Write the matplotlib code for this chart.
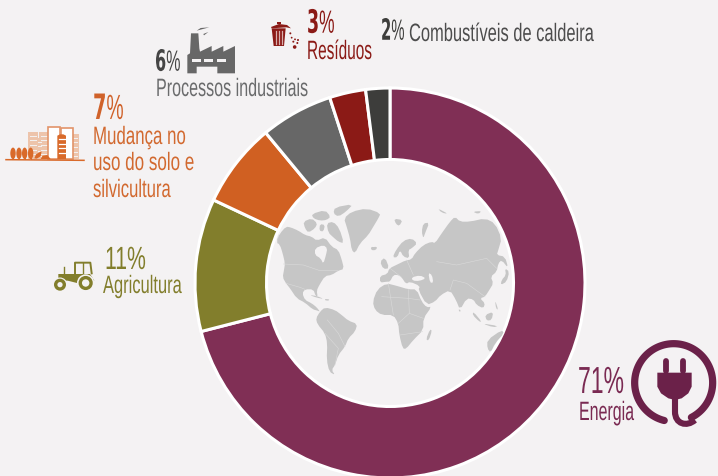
import matplotlib
matplotlib.use("Agg")
import matplotlib.pyplot as plt
import matplotlib.patheffects as pe
from matplotlib.patches import Polygon, Ellipse, Circle, Rectangle, PathPatch
from matplotlib.path import Path
from matplotlib.text import Text
from matplotlib.transforms import Affine2D, Bbox
import numpy as np

# emission shares, clockwise from the top of the ring
sectors = ["Energia", "Agricultura", "Mudança no\nuso do solo e\nsilvicultura",
           "Processos industriais", "Resíduos", "Combustíveis de caldeira"]
shares = [71, 11, 7, 6, 3, 2]
ring_colors = ["#802F55", "#827E2C", "#D06022", "#676767", "#8B1A16", "#3D3D3B"]

BG = "#F4F2F3"
LAND = "#C6C6C6"
PLUG = "#6B2149"

plt.rcParams["font.family"] = ["Liberation Sans Narrow", "Liberation Sans", "DejaVu Sans"]
plt.rcParams["mathtext.fontset"] = "custom"
plt.rcParams["mathtext.rm"] = "Liberation Sans Narrow"
plt.rcParams["mathtext.bf"] = "Liberation Sans Narrow:bold"
plt.rcParams["mathtext.default"] = "rm"

fig = plt.figure(figsize=(7.18, 4.76), dpi=100, facecolor=BG)
ax = fig.add_axes([0, 0, 1, 1])
ax.set_facecolor(BG)


class Condense(pe.AbstractPathEffect):
    # squeeze glyphs sideways around the text's anchor
    def __init__(self, sx, x0):
        super().__init__()
        self.sx = sx
        self.x0 = x0

    def draw_path(self, renderer, gc, tpath, affine, rgbFace=None):
        squeeze = Affine2D().translate(-self.x0, 0).scale(self.sx, 1).translate(self.x0, 0)
        renderer.draw_path(gc, tpath, affine + squeeze, rgbFace)


class NarrowText(Text):
    # text whose extent follows the squeezed glyphs
    sx = 1.0

    def get_window_extent(self, renderer=None, dpi=None):
        bb = super().get_window_extent(renderer, dpi)
        if self.get_ha() == "right":
            return Bbox.from_extents(bb.x1 - bb.width * self.sx, bb.y0, bb.x1, bb.y1)
        return Bbox.from_extents(bb.x0, bb.y0, bb.x0 + bb.width * self.sx, bb.y1)


def label(x, y, s, cap, width, color, ha="left"):
    # cap = cap height in px, width = final text width in px
    size = cap / 0.716 * 0.72
    t = NarrowText(x, y, s, fontsize=size, color=color, ha=ha, va="baseline", zorder=5)
    ax.add_artist(t)
    w = t.get_window_extent(fig.canvas.get_renderer()).width
    t.sx = min(width / w, 1.0)
    t.set_path_effects([Condense(t.sx, ax.transData.transform((x, y))[0])])
    return t


def bold_digit(value):
    return r"$\mathbf{%d}$%%" % value


def trace(pts, ox, oy, k=3.0):
    # outlines are noted at 3x scale with an offset
    return [(ox + a / k, oy + b / k) for a, b in pts]


def soften(pts, rounds=1):
    # corner cutting, takes the straight edges off the coastlines
    p = np.array(pts, dtype=float)
    for _ in range(rounds):
        n = np.roll(p, -1, axis=0)
        p = np.column_stack([0.75 * p + 0.25 * n, 0.25 * p + 0.75 * n]).reshape(-1, 2)
    return p


def fill(pts, ox, oy, color, z=2, **kw):
    ax.add_patch(Polygon(trace(pts, ox, oy), closed=True, facecolor=color,
                         edgecolor="none", zorder=z, **kw))


def stroke(pts, ox, oy, color, lw=0.4, z=2.5):
    p = trace(pts, ox, oy)
    ax.plot([q[0] for q in p], [q[1] for q in p], color=color, lw=lw, zorder=z)


# ring: y axis runs downwards, so angles grow clockwise on screen
ax.pie(shares, colors=ring_colors, radius=195, center=(390, 283), startangle=270,
       counterclock=True,
       wedgeprops=dict(width=71.5, edgecolor="white", linewidth=2.2))

# pie resets the limits, so fix the pixel frame straight after it
ax.set_xlim(0, 718)
ax.set_ylim(476, 0)
ax.set_aspect("equal")
ax.axis("off")

# --- world map in the hole ---
W = (270, 200)   # americas block
E = (370, 200)   # old world block

north_america = [(18, 125), (30, 100), (48, 80), (62, 82), (85, 92), (105, 105), (125, 110),
                 (140, 122), (165, 112), (185, 140), (205, 150), (215, 178), (222, 207), (205, 212),
                 (185, 225), (165, 228), (148, 255), (140, 272), (143, 290), (137, 288),
                 (130, 268), (105, 268), (97, 280), (105, 300), (125, 310), (140, 322), (150, 335),
                 (143, 332), (128, 328), (105, 308), (80, 295), (60, 265), (48, 250), (38, 232),
                 (42, 210), (45, 190), (38, 160), (30, 135)]
hudson_bay = [(135, 145), (160, 135), (172, 145), (168, 165), (160, 192), (152, 175), (135, 165)]
south_america = [(138, 355), (150, 335), (165, 322), (195, 330), (215, 345), (235, 362),
                 (262, 372), (255, 395), (235, 415), (225, 440), (205, 465), (195, 495), (185, 510),
                 (195, 525), (178, 515), (170, 480), (172, 430), (165, 400), (142, 372)]
greenland = [(222, 55), (245, 35), (290, 25), (332, 40), (325, 55), (310, 80), (295, 105),
             (270, 130), (255, 160), (245, 150), (240, 115), (230, 80)]
arctic_isles = [
    [(100, 65), (125, 55), (142, 70), (135, 85), (115, 98), (105, 85)],
    [(125, 42), (165, 30), (182, 50), (170, 60), (150, 62), (130, 55)],
    [(195, 22), (250, 12), (228, 35), (205, 50), (190, 40)],
    [(170, 70), (190, 65), (208, 85), (222, 130), (205, 125), (190, 112), (175, 98)],
    [(150, 72), (165, 75), (160, 95), (148, 92)],
    [(302, 142), (322, 140), (318, 150), (305, 151)],
]
caribbean = [[(118, 285), (140, 288), (162, 297), (140, 293)], [(165, 297), (178, 298), (176, 302), (165, 301)]]
for shape in [north_america, south_america, greenland] + arctic_isles + caribbean:
    fill(soften(shape), W[0], W[1], LAND)
fill(soften(hudson_bay), W[0], W[1], BG, z=2.2)

eurasia = [(30, 228), (52, 222), (58, 205), (85, 192), (105, 182), (125, 178), (135, 160),
           (160, 135), (185, 125), (195, 130), (215, 100), (240, 65), (255, 50), (270, 65),
           (300, 65), (345, 55), (375, 70), (395, 115), (385, 150), (380, 165), (405, 170),
           (415, 205), (395, 180), (385, 190), (380, 215), (362, 230), (370, 250), (358, 270),
           (345, 290), (330, 295), (345, 310), (340, 325), (320, 315), (310, 298), (290, 295),
           (270, 330), (258, 300), (240, 270), (212, 285), (195, 305), (170, 315), (145, 270),
           (150, 258), (120, 245), (108, 252), (95, 232), (85, 225), (70, 225), (60, 245),
           (50, 245), (30, 248)]
scandinavia = [(68, 172), (78, 150), (100, 122), (125, 115), (142, 130), (125, 145), (115, 150),
               (118, 175), (100, 170), (90, 150), (82, 172)]
africa = [(8, 305), (22, 268), (50, 250), (82, 258), (115, 268), (140, 268), (155, 305), (170, 322),
          (185, 320), (160, 355), (160, 390), (130, 420), (108, 447), (98, 445), (88, 405),
          (85, 370), (70, 345), (35, 345), (15, 330)]
old_isles = [
    [(180, 388), (186, 392), (176, 422), (168, 418)],                       # madagascar
    [(352, 420), (395, 390), (402, 400), (375, 430), (362, 458), (352, 445)],  # australia
    [(310, 335), (335, 365), (328, 365), (308, 345)],
    [(345, 345), (370, 335), (365, 360), (350, 362)],
    [(335, 370), (385, 378), (370, 382)],
    [(405, 205), (418, 215), (410, 245), (392, 255), (395, 240), (408, 225)],
    [(375, 300), (385, 330), (378, 325)],
    [(265, 328), (272, 330), (270, 337)],
    [(160, 70), (178, 68), (165, 100), (160, 115), (155, 95)],              # novaya zemlya
    [(72, 56), (98, 60), (88, 78), (78, 72)],
    [(30, 185), (45, 172), (58, 205), (40, 207)],
    [(2, 140), (22, 143), (8, 150)],
    [(203, 25), (235, 42), (215, 38)],
    [(308, 35), (335, 33), (325, 42)],
]
for shape in [eurasia, scandinavia, africa] + old_isles:
    fill(soften(shape), E[0], E[1], LAND)
fill(soften([(125, 232), (150, 226), (168, 235), (148, 243), (128, 242)]), E[0], E[1], BG, z=2.2)
fill(soften([(175, 218), (186, 225), (190, 248), (180, 248)]), E[0], E[1], BG, z=2.2)

# faint country borders
border_col = "#DADADA"
for line in [[(40, 192), (100, 195), (150, 212), (205, 212)], [(48, 250), (90, 262), (105, 268)],
             [(25, 105), (22, 130)], [(172, 360), (205, 400), (225, 440)], [(165, 400), (205, 445), (195, 495)]]:
    stroke(line, W[0], W[1], border_col)
for line in [[(200, 185), (260, 195), (350, 175), (380, 205)], [(240, 270), (250, 240), (290, 250), (345, 290)],
             [(35, 290), (115, 295), (150, 300)], [(55, 250), (70, 345)], [(115, 268), (118, 340), (85, 370)],
             [(118, 340), (160, 355)], [(90, 405), (158, 395)], [(110, 180), (130, 225)], [(60, 205), (95, 232)]]:
    stroke(line, E[0], E[1], border_col)

# --- percent and sector labels ---
pct = [f"{v}%" for v in shares]
c_energy, c_agri, c_land, c_waste = "#7A2A52", "#827E2C", "#D0622A", "#8B1A16"

label(578, 393, pct[0], 27, 46, c_energy)
label(579, 420, sectors[0], 19, 55, c_energy)

label(105, 269, pct[1], 23, 41, c_agri)
label(103, 293, sectors[1], 18, 79, c_agri)

label(93, 119, bold_digit(shares[2]), 25, 31, c_land)
label_widths = [93, 101, 78]
for line, base, w in zip(sectors[2].split("\n"), [144, 170, 197], label_widths):
    label(93, base, line, 18, w, "#D2692F")

label(155, 71, bold_digit(shares[3]), 21, 26, "#454545")
label(156, 96, sectors[3], 18, 152, "#6A6B6C")

label(307, 33, bold_digit(shares[4]), 23, 28, c_waste)
label(372, 59, sectors[4], 19, 65, c_waste, ha="right")

label(405, 40, bold_digit(shares[5]), 21, 24, "#3D3D3B", ha="right")
label(409, 41, sectors[5], 18, 185, "#4C4C4C")

# --- plug icon ---
P = (560, 330)
cx, cy = P[0] + 341 / 3, P[1] + 158 / 3
ang = np.radians(np.linspace(104, 423, 120))   # y down: clockwise from the lower left
ax.plot(cx + 39 * np.cos(ang), cy + 39 * np.sin(ang), color=PLUG, lw=5.2,
        solid_capstyle="round", zorder=4)
fill([(292, 128), (395, 128), (395, 170), (385, 190), (365, 205), (345, 210), (325, 205), (303, 190), (292, 170)],
     P[0], P[1], PLUG, z=4)
ax.add_patch(PathPatch(Path(trace([(345, 205), (345, 245), (345, 282), (380, 292), (405, 270)], P[0], P[1]),
                            [Path.MOVETO, Path.LINETO, Path.CURVE4, Path.CURVE4, Path.CURVE4]),
                       facecolor="none", edgecolor=PLUG, lw=4.4, zorder=4))
for px in (319, 369):
    ax.plot(*zip(*trace([(px, 92), (px, 122)], P[0], P[1])), color=PLUG, lw=4.2,
            solid_capstyle="round", zorder=4)

# --- tractor ---
T = (45, 250)
tc = "#827E2C"
fill([(40, 72), (135, 72), (148, 92), (100, 100), (68, 92), (40, 92)], T[0], T[1], tc, z=4)
stroke([(90, 70), (90, 38), (136, 38), (140, 70)], T[0], T[1], tc, lw=1.4, z=4)
stroke([(113, 38), (113, 70)], T[0], T[1], tc, lw=1.0, z=4)
stroke([(58, 50), (58, 72)], T[0], T[1], tc, lw=1.0, z=4)
for wx, wy, r in [(122, 99, 7.5), (45, 104, 6)]:
    x0, y0 = T[0] + wx / 3, T[1] + wy / 3
    ax.add_patch(Circle((x0, y0), r + 1.2, facecolor=BG, edgecolor="none", zorder=4.2))
    ax.add_patch(Circle((x0, y0), r * 0.72, facecolor=BG, edgecolor=tc, lw=2.4, zorder=4.3))

# --- factory ---
F = (180, 20)
fc = "#676767"
fill([(22, 105), (30, 100), (33, 40), (55, 40), (58, 85), (60, 95), (95, 78), (95, 95), (130, 78), (130, 95),
      (165, 78), (165, 160), (112, 160), (112, 140), (50, 140), (50, 160), (22, 160)], F[0], F[1], fc, z=4)
for x0, x1 in [(35, 62), (72, 100), (110, 138)]:
    fill([(x0, 118), (x1, 118), (x1, 126), (x0, 126)], F[0], F[1], BG, z=4.2)
fill([(50, 32), (62, 24), (88, 22), (65, 28)], F[0], F[1], fc, z=4)
fill([(70, 42), (85, 36), (72, 46)], F[0], F[1], fc, z=4)

# --- waste bin ---
B = (265, 15)
bc = "#8B1A16"
fill([(20, 40), (62, 40), (57, 93), (26, 93)], B[0], B[1], bc, z=4)
fill([(18, 36), (42, 27), (66, 30), (78, 40), (64, 37), (20, 40)], B[0], B[1], bc, z=4)
fill([(36, 20), (48, 20), (48, 28), (36, 28)], B[0], B[1], bc, z=4)
for bx in (32, 42, 52):
    stroke([(bx, 48), (bx, 86)], B[0], B[1], "#D9B0AD", lw=0.9, z=4.2)
for dx, dy, r in [(76, 55, 1.0), (80, 68, 0.9), (90, 73, 0.9), (99, 75, 1.0), (85, 80, 1.0), (97, 84, 1.0), (89, 96, 1.8)]:
    ax.add_patch(Circle((B[0] + dx / 3, B[1] + dy / 3), r, facecolor=bc, edgecolor="none", zorder=4))

# --- city and trees ---
C = (0, 115)
oc, pale = "#D96A2A", "#EDC4AB"
for x0, y0, x1 in [(85, 52, 113), (118, 52, 145), (108, 70, 128), (215, 58, 237)]:
    fill([(x0, y0), (x1, y0), (x1, 131), (x0, 131)], C[0], C[1], pale, z=3.5)
    for yy in range(y0 + 10, 128, 14):
        stroke([(x0 + 5, yy), (x1 - 5, yy)], C[0], C[1], BG, lw=0.7, z=3.6)
for x0, y0, x1 in [(145, 36, 180), (183, 38, 218)]:
    ax.add_patch(Rectangle((C[0] + x0 / 3, C[1] + y0 / 3), (x1 - x0) / 3, (131 - y0) / 3,
                           facecolor="white", edgecolor="#E29469", lw=1.2, zorder=3.7))
fill([(172, 62), (180, 58), (190, 58), (198, 62), (198, 132), (172, 132)], C[0], C[1], oc, z=3.8)
for yy in (72, 86, 100, 114):
    stroke([(176, yy), (194, yy)], C[0], C[1], "white", lw=0.9, z=3.9)
for tx in (39, 57, 74, 92):
    ax.add_patch(Ellipse((C[0] + tx / 3, C[1] + 115 / 3), 5.4, 11.5, facecolor=oc, edgecolor="none", zorder=4))
    stroke([(tx, 120), (tx, 133)], C[0], C[1], oc, lw=0.7, z=4)
fill([(103, 130), (108, 118), (125, 108), (122, 124), (110, 131)], C[0], C[1], oc, z=4)
fill([(122, 132), (128, 122), (142, 120), (152, 132)], C[0], C[1], oc, z=4)
stroke([(18, 134), (252, 136)], C[0], C[1], oc, lw=1.1, z=4)

fig.savefig("out.png", dpi=100, facecolor=BG)
